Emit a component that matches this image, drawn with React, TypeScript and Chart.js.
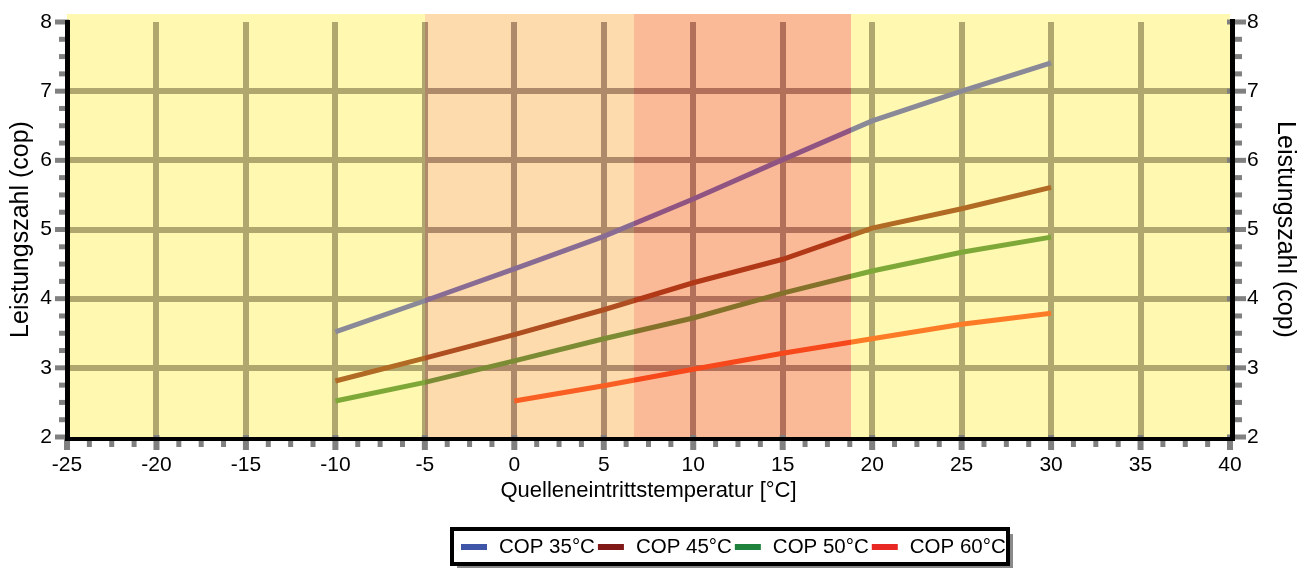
import { useEffect, useRef } from 'react';
import { Chart, registerables } from 'chart.js';

Chart.register(...registerables);

// ---------- data ----------
const temps = [-10, -5, 0, 5, 10, 15, 20, 25, 30];
const cop35 = [3.52, 3.97, 4.43, 4.9, 5.44, 6.01, 6.57, 7.0, 7.41];
const cop45 = [2.81, 3.14, 3.48, 3.84, 4.23, 4.57, 5.02, 5.3, 5.61];
const cop50 = [2.52, 2.79, 3.1, 3.42, 3.72, 4.08, 4.4, 4.67, 4.89];
const cop60 = [null, null, 2.52, 2.74, 2.98, 3.21, 3.42, 3.63, 3.79];

const seriesLabels = ['COP 35°C', 'COP 45°C', 'COP 50°C', 'COP 60°C'];
const seriesValues = [cop35, cop45, cop50, cop60];
const lineColors = ['rgb(60,70,215)', 'rgb(125,20,22)', 'rgb(40,124,55)', 'rgb(248,48,28)'];
const legendColors = ['rgb(63,85,168)', 'rgb(128,24,24)', 'rgb(30,130,60)', 'rgb(232,40,35)'];

const xTickMin = -25;
const xTickMax = 40;
const yTickMin = 2;
const yTickMax = 8;

const bandEdges = [-25, -5, 6.7, 18.8, 40];
const bandColors = [
  'rgba(255,237,58,0.4)',
  'rgba(250,165,48,0.4)',
  'rgba(244,102,27,0.45)',
  'rgba(255,237,58,0.4)',
];

const FONT = '"Liberation Sans", Arial, sans-serif';
const TICK_GRAY = '#808080';
const GRID_GRAY = 'rgb(124,120,145)';

const overlayPlugin = {
  id: 'bandOverlay',
  afterDatasetsDraw(chart: any) {
    const { ctx, chartArea } = chart;
    const x = chart.scales.x;
    ctx.save();
    const top = chartArea.top - 8;
    for (let i = 0; i < bandColors.length; i++) {
      const l = Math.round(x.getPixelForValue(bandEdges[i]));
      const r = Math.round(x.getPixelForValue(bandEdges[i + 1]));
      ctx.fillStyle = bandColors[i];
      ctx.fillRect(l, top, r - l, chartArea.bottom - top);
    }
    ctx.restore();
  },
};

const axesPlugin = {
  id: 'axesTicks',
  afterDraw(chart: any) {
    const { ctx, chartArea } = chart;
    const { left, right, top, bottom } = chartArea;
    const x = chart.scales.x;
    const y = chart.scales.y;
    ctx.save();
    ctx.fillStyle = TICK_GRAY;
    // x ticks (minor every 1.25)
    for (let i = 0; i <= 52; i++) {
      const v = xTickMin + i * 1.25;
      const px = x.getPixelForValue(v);
      if (i % 4 === 0) ctx.fillRect(px - 3, bottom - 2, 6, 15);
      else ctx.fillRect(px - 2.5, bottom + 1, 5, 9);
    }
    // y ticks (minor every 0.25)
    for (let i = 0; i <= 24; i++) {
      const v = yTickMin + i * 0.25;
      const py = y.getPixelForValue(v);
      if (i % 4 === 0) {
        ctx.fillRect(left - 12, py - 2.5, 14, 5);
        ctx.fillRect(right - 3, py - 2.5, 19, 5);
      } else {
        ctx.fillRect(left - 8, py - 2.5, 9, 5);
        ctx.fillRect(right + 2, py - 2.5, 10, 5);
      }
    }
    // axis lines
    ctx.fillStyle = '#000';
    ctx.fillRect(left - 2, top - 2, 5, bottom - top + 6);
    ctx.fillRect(left - 2, bottom, right - left + 7, 4);
    ctx.fillRect(right, top - 3, 5, bottom - top + 7);
    ctx.restore();
  },
};

const legendPlugin = {
  id: 'customLegend',
  afterDraw(chart: any) {
    const { ctx } = chart;
    ctx.save();
    const bx = 452, by = 529, bw = 556, bh = 35;
    ctx.fillStyle = '#8a8a8a';
    ctx.fillRect(bx + 5, by + 5, bw, bh);
    ctx.fillStyle = '#fff';
    ctx.fillRect(bx, by, bw, bh);
    ctx.strokeStyle = '#000';
    ctx.lineWidth = 4;
    ctx.strokeRect(bx, by, bw, bh);
    ctx.font = `20.5px ${FONT}`;
    ctx.textBaseline = 'middle';
    ctx.textAlign = 'left';
    let cx = 461;
    const cy = 547;
    for (let i = 0; i < seriesLabels.length; i++) {
      ctx.fillStyle = legendColors[i];
      ctx.fillRect(cx, cy - 3, 26, 6);
      cx += 26 + 12;
      ctx.fillStyle = '#000';
      ctx.fillText(seriesLabels[i], cx, cy);
      cx += ctx.measureText(seriesLabels[i]).width + 3;
    }
    ctx.restore();
  },
};

export default function App() {
  const ref = useRef<HTMLCanvasElement | null>(null);
  useEffect(() => {
    if (!ref.current) return;
    const datasets = seriesValues.map((vals, i) => ({
      label: seriesLabels[i],
      data: temps
        .map((t, j) => ({ x: t, y: vals[j] }))
        .filter((p) => p.y !== null),
      borderColor: lineColors[i],
      backgroundColor: lineColors[i],
      borderWidth: 5,
      pointRadius: 0,
      tension: 0,
      fill: false,
      yAxisID: 'y',
    }));
    const hideEdge = (lo: number, hi: number) => (c: any) =>
      c.tick && (c.tick.value === lo || c.tick.value === hi) ? 'rgba(0,0,0,0)' : GRID_GRAY;
    const fixV = (w: number) => (s: any) => {
      s.width = w;
      s.paddingTop = 0;
      s.paddingBottom = 0;
    };
    const chart = new Chart(ref.current, {
      type: 'line',
      data: { datasets } as any,
      plugins: [overlayPlugin, axesPlugin, legendPlugin],
      options: {
        animation: false,
        responsive: false,
        maintainAspectRatio: false,
        layout: { padding: { top: 22, left: 0, right: 0, bottom: 0 } },
        plugins: { legend: { display: false }, tooltip: { enabled: false } },
        scales: {
          x: {
            type: 'linear',
            min: xTickMin,
            max: xTickMax,
            afterFit: (s: any) => { s.height = 131; s.paddingLeft = 0; s.paddingRight = 0; },
            ticks: { stepSize: 5, color: '#000', padding: 16, font: { family: FONT, size: 21 } },
            grid: { color: hideEdge(xTickMin, xTickMax), lineWidth: 6, drawTicks: false },
            border: { display: false },
            title: {
              display: true,
              text: 'Quelleneintrittstemperatur [°C]',
              color: '#000',
              font: { family: FONT, size: 22 },
              padding: { top: 0, bottom: 64 },
            },
          },
          y: {
            type: 'linear',
            position: 'left',
            min: yTickMin,
            max: yTickMax,
            afterFit: fixV(67),
            ticks: { stepSize: 1, color: '#000', padding: 15, font: { family: FONT, size: 21 } },
            grid: { color: hideEdge(yTickMin, yTickMax), lineWidth: 6, drawTicks: false },
            border: { display: false },
            title: {
              display: true,
              text: 'Leistungszahl (cop)',
              color: '#000',
              font: { family: FONT, size: 25 },
              padding: { top: 6, bottom: 0 },
            },
          },
          y2: {
            type: 'linear',
            position: 'right',
            min: yTickMin,
            max: yTickMax,
            afterFit: fixV(73),
            ticks: { stepSize: 1, color: '#000', padding: 17, font: { family: FONT, size: 21 } },
            grid: { display: false, drawTicks: false },
            border: { display: false },
            title: {
              display: true,
              text: 'Leistungszahl (cop)',
              color: '#000',
              font: { family: FONT, size: 25 },
              padding: { top: 3, bottom: 0 },
            },
          },
        },
      } as any,
    });
    return () => chart.destroy();
  }, []);
  return (
    <div style={{ position: 'fixed', left: 0, top: 0, width: 1303, height: 568, background: '#fff' }}>
      <canvas ref={ref} width={1303} height={568} style={{ display: 'block', width: 1303, height: 568 }} />
    </div>
  );
}
